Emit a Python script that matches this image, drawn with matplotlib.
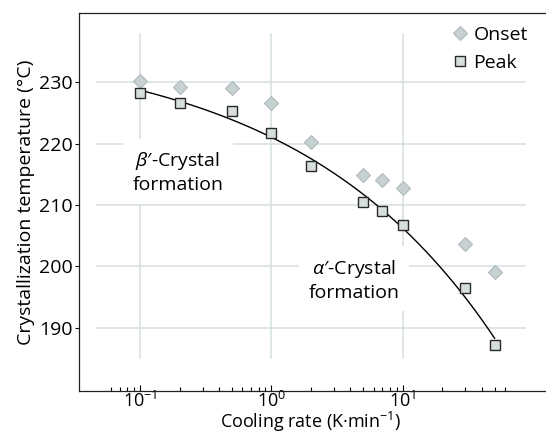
import numpy as np
import matplotlib
matplotlib.use("Agg")
import matplotlib.pyplot as plt

plt.rcParams['font.family'] = ['Open Sans', 'DejaVu Sans']
plt.rcParams['mathtext.fontset'] = 'custom'
plt.rcParams['mathtext.rm'] = 'Open Sans'
plt.rcParams['mathtext.it'] = 'Open Sans:italic'
plt.rcParams['font.size'] = 14

# data
rate = [0.1, 0.2, 0.5, 1, 2, 5, 7, 10, 30, 50]
onset = [230.2, 229.2, 229.1, 226.6, 220.2, 214.9, 214.0, 212.7, 203.7, 199.05]
peak = [228.3, 226.7, 225.35, 221.7, 216.4, 210.5, 209.05, 206.8, 196.5, 187.2]
y_ticks = [190, 200, 210, 220, 230]
x_ticks = [0.1, 1, 10]

# power-law fit of the peak temperatures: T = a + b * rate**c
xr = np.array(rate)
best = None
for c in np.linspace(0.05, 1.0, 400):
    b, a = np.polyfit(xr ** c, peak, 1)
    err = np.sum((a + b * xr ** c - np.array(peak)) ** 2)
    if best is None or err < best[0]:
        best = (err, a, b, c)
_, fa, fb, fc = best
xf = np.logspace(np.log10(rate[0]), np.log10(rate[-1]), 200)
yf = fa + fb * xf ** fc

fig = plt.figure(figsize=(5.46, 4.34), dpi=100)
ax = fig.add_axes([0.1454, 0.0998, 1 - 0.1454, 0.8698])
ax.set_xscale('log')
ax.set_xlim(0.0346, 123)
ax.set_ylim(179.7, 241.3)

grid_col = '#d5dfe1'
ax.hlines(y_ticks, 0.046, 86, color=grid_col, lw=1.1, zorder=0)
ax.vlines(x_ticks, 184.9, 238.0, color=grid_col, lw=1.1, zorder=0)

ax.plot(xf, yf, color='black', lw=1.0, zorder=2)
ax.plot(rate, onset, ls='none', marker='D', ms=7.5, mfc='#c8d1d2', mec='#aebabb',
        mew=0.8, label='Onset', zorder=3)
ax.plot(rate, peak, ls='none', marker='s', ms=7.3, mfc='#d6dede', mec='#2a2a2a',
        mew=1.0, label='Peak', zorder=4)

box = dict(boxstyle='square,pad=0.5', fc='white', ec='none')
ax.text(0.1945, 215.35, "$\\mathit{\\beta}$\u2032-Crystal\nformation", ha='center',
        va='center', linespacing=1.25, bbox=box, zorder=1)
ax.text(4.25, 197.8, "$\\mathit{\\alpha}$\u2032-Crystal\nformation", ha='center',
        va='center', linespacing=1.25, bbox=box, zorder=1)

ax.legend(loc='upper left', bbox_to_anchor=(450 / 546, 1 - 26 / 434),
          bbox_transform=fig.transFigure, frameon=False, borderaxespad=0,
          borderpad=0, handlelength=1.0, handletextpad=0.2, labelspacing=0.5)

ax.set_yticks(y_ticks)
ax.set_xticks(x_ticks)
minors = [m * 10.0 ** e for e in (-2, -1, 0, 1) for m in range(2, 10)]
minors = [v for v in minors if 0.055 < v < 65]
ax.set_xticks(minors, minor=True)
ax.xaxis.set_minor_formatter(matplotlib.ticker.NullFormatter())
ax.tick_params(axis='x', which='major', direction='in', length=4.5, width=0.8,
               pad=0, labelsize=13)
ax.tick_params(axis='x', which='minor', direction='in', length=3.2, width=0.8)
ax.tick_params(axis='y', direction='out', length=3, width=0.8, pad=2)

for s in ('left', 'top', 'bottom'):
    ax.spines[s].set_linewidth(0.9)
    ax.spines[s].set_color('#222222')
ax.spines['right'].set_visible(False)

ax.set_ylabel('Crystallization temperature (°C)', labelpad=3)
ax.set_xlabel('Cooling rate (K\u00b7min$^{-1}$)', fontsize=13)
ax.xaxis.label.set_va('bottom')
ax.xaxis.set_label_coords(0.495, (0.001 - 0.0998) / 0.8698)

fig.savefig('out.png', dpi=100)
